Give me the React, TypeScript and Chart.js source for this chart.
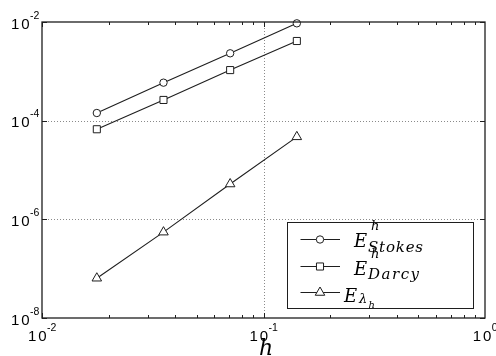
import React, { useEffect, useRef } from "react";
import { Chart, registerables } from "chart.js";

Chart.register(...registerables);

const hValues = [0.01768, 0.03536, 0.07071, 0.14142];
const stokesErr = [1.43e-4, 5.89e-4, 2.32e-3, 9.4e-3];
const darcyErr = [6.7e-5, 2.63e-4, 1.06e-3, 4.12e-3];
const lambdaErr = [6.4e-8, 5.5e-7, 5.2e-6, 4.7e-5];
const xTickExps = [-2, -1, 0];
const yTickExps = [-8, -6, -4, -2];

const INK = "#1e1e1e";

function toPts(ys: number[]) {
  return hValues.map((x, i) => ({ x, y: ys[i] }));
}

function drawFit(ctx: CanvasRenderingContext2D, text: string, x: number, y: number, width: number) {
  const chars = text.split("");
  const ws = chars.map((c) => ctx.measureText(c).width);
  const total = ws.reduce((a, b) => a + b, 0);
  const extra = chars.length > 1 ? (width - total) / (chars.length - 1) : 0;
  let cx = x;
  chars.forEach((c, i) => {
    ctx.fillText(c, cx, y);
    cx += ws[i] + extra;
  });
}

function drawMarker(ctx: CanvasRenderingContext2D, style: string, x: number, y: number, r: number) {
  ctx.beginPath();
  if (style === "circle") {
    ctx.arc(x, y, r, 0, Math.PI * 2);
  } else if (style === "rect") {
    const s = Math.SQRT1_2 * r;
    ctx.rect(x - s, y - s, 2 * s, 2 * s);
  } else {
    let rad = 0;
    ctx.moveTo(x + Math.sin(rad) * r, y - Math.cos(rad) * r);
    rad += (2 * Math.PI) / 3;
    ctx.lineTo(x + Math.sin(rad) * r, y - Math.cos(rad) * r);
    rad += (2 * Math.PI) / 3;
    ctx.lineTo(x + Math.sin(rad) * r, y - Math.cos(rad) * r);
    ctx.closePath();
  }
  ctx.fill();
  ctx.stroke();
}

const decorPlugin = {
  id: "decor",
  beforeDatasetsDraw(chart: any) {
    const { ctx, chartArea: a, scales } = chart;
    const xs = scales.x;
    const ys = scales.y;
    ctx.save();
    ctx.strokeStyle = "#8a8a8a";
    ctx.lineWidth = 1;
    ctx.setLineDash([1, 2]);
    xTickExps.forEach((e) => {
      const px = Math.round(xs.getPixelForValue(Math.pow(10, e))) + 0.5;
      if (px <= a.left + 1 || px >= a.right - 1) return;
      ctx.beginPath();
      ctx.moveTo(px, a.top);
      ctx.lineTo(px, a.bottom);
      ctx.stroke();
    });
    yTickExps.forEach((e) => {
      const py = Math.round(ys.getPixelForValue(Math.pow(10, e))) + 0.5;
      if (py <= a.top + 1 || py >= a.bottom - 1) return;
      ctx.beginPath();
      ctx.moveTo(a.left, py);
      ctx.lineTo(a.right, py);
      ctx.stroke();
    });
    ctx.restore();
  },
  afterDraw(chart: any) {
    const { ctx, chartArea: a, scales } = chart;
    const xs = scales.x;
    const ys = scales.y;
    ctx.save();
    // box
    ctx.strokeStyle = INK;
    ctx.lineWidth = 1.3;
    ctx.setLineDash([]);
    ctx.strokeRect(a.left, a.top, a.right - a.left, a.bottom - a.top);
    // x ticks
    ctx.lineWidth = 1;
    for (let e = -2; e < 0; e++) {
      for (let m = 1; m <= 9; m++) {
        const v = m * Math.pow(10, e);
        const px = Math.round(xs.getPixelForValue(v)) + 0.5;
        const len = m === 1 ? 5 : 3;
        ctx.beginPath();
        ctx.moveTo(px, a.bottom);
        ctx.lineTo(px, a.bottom - len);
        ctx.moveTo(px, a.top);
        ctx.lineTo(px, a.top + len);
        ctx.stroke();
      }
    }
    // y ticks
    yTickExps.forEach((e) => {
      const py = Math.round(ys.getPixelForValue(Math.pow(10, e))) + 0.5;
      ctx.beginPath();
      ctx.moveTo(a.left, py);
      ctx.lineTo(a.left + 5, py);
      ctx.moveTo(a.right, py);
      ctx.lineTo(a.right - 5, py);
      ctx.stroke();
    });
    // tick labels
    ctx.fillStyle = "#000";
    const big = '15px "Liberation Sans", Arial, sans-serif';
    const small = '10.5px "Liberation Sans", Arial, sans-serif';
    const tenW = 18.5;
    ctx.textBaseline = "alphabetic";
    ctx.textAlign = "left";
    yTickExps.forEach((e) => {
      const py = ys.getPixelForValue(Math.pow(10, e));
      ctx.font = big;
      drawFit(ctx, "10", 29.5 - tenW, py + 6.5, tenW);
      ctx.font = small;
      ctx.fillText("-" + Math.abs(e), 30, py - 3.5);
    });
    xTickExps.forEach((e) => {
      const px = xs.getPixelForValue(Math.pow(10, e));
      ctx.font = small;
      const expTxt = e === 0 ? "0" : "-" + Math.abs(e);
      const w2 = ctx.measureText(expTxt).width;
      const start = px - (tenW + w2) / 2;
      ctx.font = big;
      drawFit(ctx, "10", start, 340.7, tenW);
      ctx.font = small;
      ctx.fillText(expTxt, start + tenW + 0.5, 331);
    });
    // x label
    ctx.font = 'italic 22px "DejaVu Serif", serif';
    ctx.textAlign = "center";
    ctx.fillText("h", 266, 355);

    // legend
    const lx = 287.5, ly = 222.5, lw = 186, lh = 86;
    ctx.fillStyle = "#fff";
    ctx.fillRect(lx, ly, lw, lh);
    ctx.strokeStyle = INK;
    ctx.lineWidth = 1;
    ctx.strokeRect(lx, ly, lw, lh);
    const rows = [239.5, 266.5, 292.5];
    const styles = ["circle", "rect", "triangle"];
    const radii = [3.7, 5, 5.5];
    rows.forEach((ry, i) => {
      ctx.strokeStyle = INK;
      ctx.lineWidth = 1;
      ctx.beginPath();
      ctx.moveTo(300.5, ry);
      ctx.lineTo(340, ry);
      ctx.stroke();
      ctx.fillStyle = "#fff";
      drawMarker(ctx, styles[i], 320, ry, radii[i]);
    });
    ctx.fillStyle = "#000";
    ctx.textAlign = "left";
    const serif = '"DejaVu Serif", serif';
    // row 1
    ctx.font = "italic 18px " + serif;
    ctx.fillText("E", 354, 246.5);
    ctx.font = "italic 13px " + serif;
    ctx.fillText("h", 371, 230);
    ctx.font = "italic 15px " + serif;
    drawFit(ctx, "Stokes", 368, 251.7, 55);
    // row 2
    ctx.font = "italic 18px " + serif;
    ctx.fillText("E", 354, 275);
    ctx.font = "italic 13px " + serif;
    ctx.fillText("h", 371, 257.7);
    ctx.font = "italic 15px " + serif;
    drawFit(ctx, "Darcy", 368, 278.5, 51);
    // row 3
    ctx.font = "italic 18px " + serif;
    ctx.fillText("E", 344, 301.7);
    ctx.font = "italic 13px " + serif;
    ctx.fillText("λ", 359, 303.3);
    ctx.font = "italic 10px " + serif;
    ctx.fillText("h", 368.5, 307.5);
    ctx.restore();
  },
};

export default function App() {
  const ref = useRef<HTMLCanvasElement | null>(null);
  useEffect(() => {
    if (!ref.current) return;
    const common = {
      borderColor: INK,
      borderWidth: 1.1,
      pointBorderColor: INK,
      pointBackgroundColor: "#fff",
      pointBorderWidth: 1,
      showLine: true,
      clip: false as any,
      tension: 0,
    };
    const chart = new Chart(ref.current, {
      type: "scatter",
      data: {
        datasets: [
          { ...common, label: "Stokes", data: toPts(stokesErr), pointStyle: "circle", pointRadius: 3.7 },
          { ...common, label: "Darcy", data: toPts(darcyErr), pointStyle: "rect", pointRadius: 5 },
          { ...common, label: "lambda", data: toPts(lambdaErr), pointStyle: "triangle", pointRadius: 5.5 },
        ],
      },
      options: {
        responsive: false,
        animation: false,
        layout: { padding: { left: 42, top: 22, right: 11, bottom: 38 } },
        plugins: { legend: { display: false }, tooltip: { enabled: false } },
        scales: {
          x: { type: "logarithmic", min: 0.01, max: 1, display: false },
          y: { type: "logarithmic", min: 1e-8, max: 1e-2, display: false },
        },
      },
      plugins: [decorPlugin],
    });
    return () => chart.destroy();
  }, []);
  return (
    <div style={{ position: "absolute", left: 0, top: 0, width: 496, height: 356, background: "#fff" }}>
      <canvas ref={ref} width={496} height={356} style={{ width: 496, height: 356, display: "block" }} />
    </div>
  );
}
